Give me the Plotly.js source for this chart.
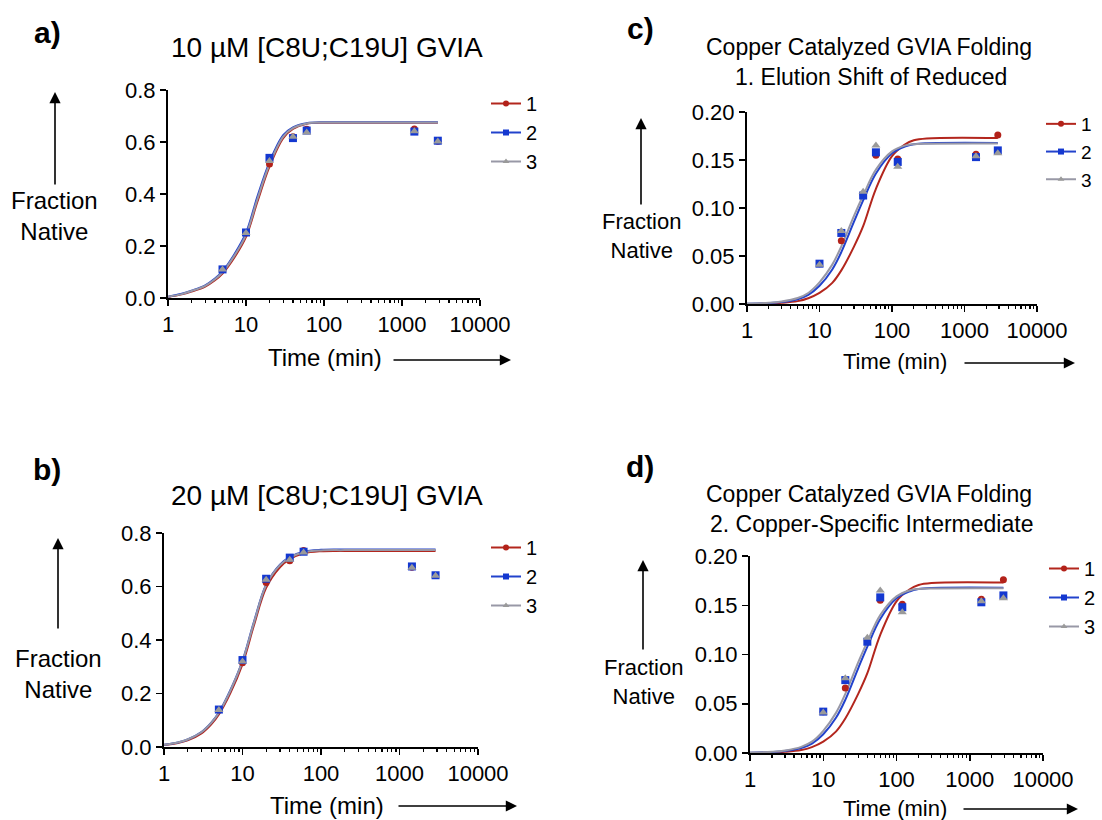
<!DOCTYPE html>
<html>
<head>
<meta charset="utf-8">
<script src="https://cdn.plot.ly/plotly-3.0.1.min.js"></script>
<style>
html,body{margin:0;padding:0;background:#fff;}
#chart{width:1102px;height:820px;}
</style>
</head>
<body>
<div id="chart"></div>
<script>
// ---------- DATA ----------
const seriesNames = ['1', '2', '3'];

// Panel a: 10 µM [C8U;C19U] GVIA
const timesA = [5, 10, 20, 40, 60, 1440, 2880];
const a1 = [0.110, 0.250, 0.515, 0.620, 0.649, 0.650, 0.603];
const a2 = [0.110, 0.252, 0.539, 0.615, 0.644, 0.640, 0.605];
const a3 = [0.110, 0.250, 0.527, 0.620, 0.637, 0.641, 0.602];
const fitTimesA = [1, 1.5, 2, 3, 4, 5, 7, 10, 14, 20, 30, 40, 60, 100, 200, 2880];
const fitA1 = [0.004, 0.014, 0.025, 0.044, 0.068, 0.094, 0.153, 0.235, 0.370, 0.505, 0.615, 0.650, 0.670, 0.674, 0.674, 0.674];
const fitA2 = [0.005, 0.016, 0.028, 0.049, 0.075, 0.102, 0.165, 0.250, 0.390, 0.522, 0.626, 0.656, 0.672, 0.676, 0.676, 0.676];
const fitA3 = [0.005, 0.015, 0.027, 0.047, 0.072, 0.099, 0.160, 0.243, 0.380, 0.514, 0.621, 0.653, 0.671, 0.675, 0.675, 0.675];

// Panel b: 20 µM [C8U;C19U] GVIA
const timesB = [5, 10, 20, 40, 60, 1440, 2880];
const b1 = [0.138, 0.315, 0.615, 0.696, 0.735, 0.672, 0.641];
const b2 = [0.140, 0.325, 0.629, 0.708, 0.730, 0.675, 0.642];
const b3 = [0.138, 0.320, 0.625, 0.700, 0.727, 0.670, 0.640];
const fitTimesB = [1, 1.5, 2, 3, 4, 5, 7, 10, 14, 20, 30, 40, 60, 100, 200, 2880];
const fitB1 = [0.007, 0.015, 0.025, 0.051, 0.085, 0.122, 0.202, 0.310, 0.455, 0.595, 0.672, 0.702, 0.724, 0.732, 0.733, 0.733];
const fitB2 = [0.008, 0.017, 0.028, 0.056, 0.091, 0.129, 0.212, 0.322, 0.468, 0.607, 0.682, 0.710, 0.730, 0.737, 0.738, 0.738];
const fitB3 = [0.008, 0.017, 0.028, 0.055, 0.090, 0.128, 0.210, 0.320, 0.465, 0.605, 0.680, 0.708, 0.728, 0.735, 0.736, 0.736];

// Panels c and d: Copper Catalyzed GVIA Folding
const timesC = [10, 20, 40, 60, 120, 1440, 2880];
const c1 = [0.042, 0.066, 0.114, 0.155, 0.151, 0.156, 0.176];
const c2 = [0.042, 0.074, 0.113, 0.158, 0.148, 0.153, 0.160];
const c3 = [0.041, 0.076, 0.117, 0.165, 0.143, 0.154, 0.157];
const fitTimesC = [1, 2, 3, 5, 7, 10, 15, 20, 30, 40, 60, 100, 150, 200, 300, 2880];
const fitC1 = [0.0001, 0.0005, 0.0012, 0.0030, 0.0060, 0.0115, 0.0220, 0.0350, 0.0600, 0.0810, 0.1200, 0.1540, 0.1660, 0.1705, 0.1725, 0.1730];
const fitC2 = [0.0003, 0.0010, 0.0020, 0.0050, 0.0095, 0.0190, 0.0360, 0.0540, 0.0860, 0.1080, 0.1360, 0.1570, 0.1640, 0.1665, 0.1675, 0.1678];
const fitC3 = [0.0004, 0.0013, 0.0026, 0.0062, 0.0115, 0.0225, 0.0410, 0.0600, 0.0920, 0.1130, 0.1400, 0.1590, 0.1650, 0.1665, 0.1670, 0.1672];

const xTickVals = [1, 10, 100, 1000, 10000];
const xTickText = ['1', '10', '100', '1000', '10000'];

// ---------- STYLE ----------
const W = 1102, H = 820;
const FONT = 'Liberation Sans, Arial, sans-serif';
const markColors = ['#b3221a', '#1438d0', '#9a9a9a'];
const lineColors = ['#b3261d', '#2242cc', '#9898a6'];
const symbols = ['circle', 'square', 'triangle-up'];
const msizes = [7, 8, 8];

const px = (x) => x / W;
const py = (y) => 1 - y / H;

const minorVals = [];
for (let d = 1; d < 10000; d *= 10) {
  for (let k = 2; k <= 9; k++) minorVals.push(k * d);
}

const panels = [
  {ax: '', times: timesA, data: [a1, a2, a3], fitT: fitTimesA, fits: [fitA1, fitA2, fitA3],
   xdom: [168, 480], ybot: 298, ytop: 90, yr: [0, 0.8], dtick: 0.2, fmt: '.1f',
   legend: 'legend'},
  {ax: '2', times: timesB, data: [b1, b2, b3], fitT: fitTimesB, fits: [fitB1, fitB2, fitB3],
   xdom: [164, 478], ybot: 747, ytop: 533, yr: [0, 0.8], dtick: 0.2, fmt: '.1f',
   legend: 'legend2'},
  {ax: '3', times: timesC, data: [c1, c2, c3], fitT: fitTimesC, fits: [fitC1, fitC2, fitC3],
   xdom: [747, 1037], ybot: 304, ytop: 112, yr: [0, 0.2], dtick: 0.05, fmt: '.2f',
   legend: 'legend3'},
  {ax: '4', times: timesC, data: [c1, c2, c3], fitT: fitTimesC, fits: [fitC1, fitC2, fitC3],
   xdom: [750, 1043], ybot: 753, ytop: 556, yr: [0, 0.2], dtick: 0.05, fmt: '.2f',
   legend: 'legend4'}
];

const traces = [];
const layout = {
  width: W, height: H,
  margin: {l: 0, r: 0, t: 0, b: 0},
  paper_bgcolor: '#ffffff', plot_bgcolor: 'rgba(0,0,0,0)',
  font: {family: FONT, size: 22, color: '#000'},
  showlegend: true,
  annotations: []
};

panels.forEach((p) => {
  const xa = 'x' + p.ax, ya = 'y' + p.ax;
  for (let i = 0; i < 3; i++) {
    traces.push({
      x: p.fitT, y: p.fits[i], xaxis: xa, yaxis: ya, mode: 'lines',
      line: {color: lineColors[i], width: 2, shape: 'spline', smoothing: 1},
      showlegend: false, hoverinfo: 'skip'
    });
  }
  for (let i = 0; i < 3; i++) {
    traces.push({
      x: p.times, y: p.data[i], xaxis: xa, yaxis: ya, mode: 'markers',
      marker: {color: markColors[i], symbol: symbols[i], size: msizes[i], line: {width: 0}},
      showlegend: false
    });
  }
  for (let i = 0; i < 3; i++) {
    traces.push({
      x: [null], y: [null], xaxis: xa, yaxis: ya, mode: 'lines+markers',
      name: seriesNames[i], legend: p.legend,
      line: {color: lineColors[i], width: 2},
      marker: {color: markColors[i], symbol: symbols[i], size: 6}
    });
  }
  const xkey = 'xaxis' + p.ax, ykey = 'yaxis' + p.ax;
  layout[xkey] = {
    type: 'log', range: [0, 4], domain: [px(p.xdom[0]), px(p.xdom[1])],
    anchor: ya, tickvals: xTickVals, ticktext: xTickText,
    ticks: 'outside', ticklen: 6, tickwidth: 1.5, tickcolor: '#000',
    showline: true, linecolor: '#000', linewidth: 2,
    showgrid: false, zeroline: false,
    tickfont: {family: FONT, size: 22, color: '#000'},
    minor: {tickvals: minorVals, ticks: 'outside', ticklen: 3, tickwidth: 1.2, tickcolor: '#000', showgrid: false}
  };
  layout[ykey] = {
    range: p.yr, domain: [py(p.ybot), py(p.ytop)], anchor: xa,
    dtick: p.dtick, tick0: 0, tickformat: p.fmt,
    ticks: 'outside', ticklen: 6, tickwidth: 1.5, tickcolor: '#000',
    showline: true, linecolor: '#000', linewidth: 2,
    showgrid: false, zeroline: false,
    tickfont: {family: FONT, size: 22, color: '#000'}
  };
});

const legendBase = {
  xanchor: 'left', yanchor: 'top', bgcolor: 'rgba(0,0,0,0)', borderwidth: 0,
  font: {family: FONT, size: 20, color: '#000'}, itemwidth: 30, tracegroupgap: 0,
  itemclick: false, itemdoubleclick: false
};
layout.legend = Object.assign({}, legendBase, {x: px(486), y: py(84)});
layout.legend2 = Object.assign({}, legendBase, {x: px(486), y: py(528)});
layout.legend3 = Object.assign({}, legendBase, {x: px(1041), y: py(105),
  font: {family: FONT, size: 19, color: '#000'}});
layout.legend4 = Object.assign({}, legendBase, {x: px(1044), y: py(549)});

function txt(text, x, y, size, bold) {
  layout.annotations.push({
    text: bold ? '<b>' + text + '</b>' : text,
    xref: 'paper', yref: 'paper', x: px(x), y: py(y),
    xanchor: 'center', yanchor: 'middle', showarrow: false,
    font: {family: FONT, size: size, color: '#000'}
  });
}
function arrow(x0, y0, x1, y1) {
  layout.annotations.push({
    text: '', xref: 'paper', yref: 'paper', x: px(x1), y: py(y1),
    axref: 'pixel', ayref: 'pixel', ax: x0 - x1, ay: y0 - y1,
    showarrow: true, arrowhead: 2, arrowsize: 1.4, arrowwidth: 1.6,
    arrowcolor: '#000', standoff: 0, startstandoff: 0
  });
}

// panel letters
txt('a)', 47, 32, 30, true);
txt('b)', 47, 470, 30, true);
txt('c)', 640, 28, 30, true);
txt('d)', 640, 467, 30, true);

// titles
txt('10 µM [C8U;C19U] GVIA', 327, 47, 28, false);
txt('20 µM [C8U;C19U] GVIA', 327, 495, 28, false);
txt('Copper Catalyzed GVIA Folding', 869, 47, 23, false);
txt('1. Elution Shift of Reduced', 871, 77, 23, false);
txt('Copper Catalyzed GVIA Folding', 869, 494, 23, false);
txt('2. Copper-Specific Intermediate', 871, 524, 23, false);

// y labels and arrows
txt('Fraction<br>Native', 54, 216, 24, false);
arrow(55, 186, 55, 92);
txt('Fraction<br>Native', 58, 674, 24, false);
arrow(58, 630, 58, 538);
txt('Fraction<br>Native', 641, 236, 22, false);
arrow(641, 206, 641, 118);
txt('Fraction<br>Native', 643, 682, 22, false);
arrow(643, 651, 643, 560);

// x labels and arrows
txt('Time (min)', 325, 358, 24, false);
arrow(392, 360, 511, 360);
txt('Time (min)', 327, 805, 24, false);
arrow(397, 806, 517, 806);
txt('Time (min)', 895, 362, 22, false);
arrow(963, 363, 1075, 363);
txt('Time (min)', 895, 808, 22, false);
arrow(962, 809, 1078, 809);

Plotly.newPlot('chart', traces, layout, {displayModeBar: false, staticPlot: true});
</script>
</body>
</html>
